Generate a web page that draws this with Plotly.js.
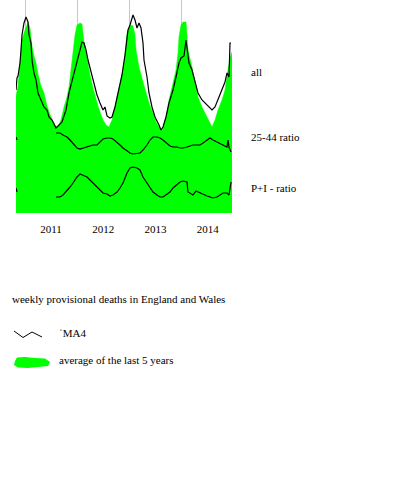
<!DOCTYPE html>
<html><head><meta charset="utf-8">
<script src="https://cdn.plot.ly/plotly-3.0.1.min.js"></script>
<style>html,body{margin:0;padding:0;background:#fff}#chart{width:400px;height:480px}</style>
</head><body><div id="chart"></div>
<script>
// week index counted from 2010-10-30; values in arbitrary units (no y axis shown)
const START_DATE = [2010, 9, 30];
const TOTAL_WEEKS = 216;

// average of the last 5 years ("all")
const avgWeeks = [0,2,4,6,8,10,12,14,16,18,20,22,25,28,31,35,38,40,43,45,48,51,53,55,57,59,61,64,66,68,70,72,74,77,79,82,84,87,90,93,96,99,102,104,106,109,111,113,115,117,119,120,123,127,130,133,137,140,143,146,150,153,157,160,162,163,165,167,170,172,176,179,182,186,189,192,196,199,202,206,209,212,214,216];
const avgAll   = [117,127,151,173,180,185,191,185,167,157,150,139,127,120,107,96,89,86,88,93,106,116,126,145,161,178,188,190,189,171,161,149,138,125,117,107,101,93,88,86,93,106,120,129,139,158,180,185,188,187,178,163,146,131,120,110,100,91,86,83,96,113,130,143,160,176,188,191,191,163,146,130,116,106,100,93,86,93,103,113,123,143,155,161];

// MA4 ("all")
const maWeeks = [0,1,2,4,5,6,8,10,12,13,15,16,18,20,22,25,28,31,33,36,38,40,43,46,50,51,53,55,57,59,61,63,66,68,70,72,74,77,79,81,84,87,89,91,94,96,99,102,106,109,111,112,114,117,119,121,123,125,127,128,131,133,136,139,143,145,147,150,153,157,160,163,165,168,170,171,173,176,179,182,186,189,192,196,199,202,206,209,211,213,214,215];
const maAll   = [123,135,137,150,163,178,190,196,191,178,170,153,140,133,120,113,106,103,96,93,88,85,88,91,103,110,120,128,136,143,153,160,171,170,163,153,145,133,125,118,110,103,106,97,95,96,106,120,138,158,176,183,188,198,193,185,190,185,170,153,136,120,106,96,88,83,86,96,110,123,136,150,155,157,173,166,150,143,131,120,113,110,106,103,106,113,123,131,140,136,170,170];

// MA4 25-44 ratio
const r2544Weeks = [0,1,2,40,44,47,51,54,57,61,64,67,71,74,77,81,84,87,91,94,97,101,104,107,111,114,117,121,124,127,131,134,137,141,144,147,151,154,157,161,164,167,171,174,177,181,184,187,191,194,197,201,204,207,211,212,213,215];
const ratio2544  = [76,73,null,80,80,78,76,73,70,65,64,65,66,67,68,68,71,74,75,75,74,71,68,65,62,60,59,60,60,63,68,73,76,76,75,73,70,67,66,66,65,65,66,67,68,68,68,70,73,75,73,71,70,68,66,73,66,61];

// MA4 P+I ratio
const rPIWeeks = [0,1,2,40,44,47,51,54,57,61,64,67,71,74,77,81,84,87,91,94,97,101,104,107,111,114,117,121,124,127,131,134,137,141,144,147,151,154,157,161,164,167,171,172,174,177,180,182,184,187,191,194,197,201,204,207,211,213,215];
const ratioPI  = [25,21,null,16,16,18,22,26,30,36,39,38,36,33,30,26,23,20,19,17,18,21,25,30,40,45,46,45,43,36,30,25,21,18,16,16,19,21,25,29,31,32,31,21,20,18,22,21,20,19,17,16,15,16,18,20,20,18,31];

const seriesLabels = ['all', '25-44 ratio', 'P+I - ratio'];
const seriesLabelLevels = [141, 76, 25];
const legendNames = ['\u02c8MA4', 'average of the last 5 years'];
const chartTitle = 'weekly provisional deaths in England and Wales';

const FONT = 'Liberation Serif, Times New Roman, serif';
function wk(w) {
  const t = Date.UTC(START_DATE[0], START_DATE[1], START_DATE[2]) + w * 7 * 864e5;
  return new Date(t).toISOString().slice(0, 10);
}
const lineStyle = {color: '#000000', width: 1.2};

const traces = [
  {x: avgWeeks.map(wk), y: avgAll, type: 'scatter', mode: 'lines', fill: 'tozeroy',
   fillcolor: '#00ff00', line: {color: '#00ff00', width: 0.5}, hoverinfo: 'skip', showlegend: false},
  {x: maWeeks.map(wk), y: maAll, type: 'scatter', mode: 'lines', line: lineStyle, showlegend: false},
  {x: r2544Weeks.map(wk), y: ratio2544, type: 'scatter', mode: 'lines', line: lineStyle, connectgaps: false, showlegend: false},
  {x: rPIWeeks.map(wk), y: ratioPI, type: 'scatter', mode: 'lines', line: lineStyle, connectgaps: false, showlegend: false}
];

// legend drawn by hand (pixel positions converted to paper coordinates)
const L = 16, T = 0, W = 216, H = 213;
const px = x => (x - L) / W;
const py = y => (T + H - y) / H;
const path = pts => 'M' + pts.map(p => px(p[0]) + ',' + py(p[1])).join(' L') + ' Z';
const openPath = pts => 'M' + pts.map(p => px(p[0]) + ',' + py(p[1])).join(' L');

const annotations = seriesLabels.map((t, i) => ({
  text: t, xref: 'paper', x: px(249), xanchor: 'left', yref: 'y', y: seriesLabelLevels[i],
  yanchor: 'middle', showarrow: false, font: {family: FONT, size: 11, color: '#000'}
}));
annotations.push({text: legendNames[0], xref: 'paper', yref: 'paper', x: px(57), y: py(333),
  xanchor: 'left', yanchor: 'middle', showarrow: false, font: {family: FONT, size: 11, color: '#000'}});
annotations.push({text: legendNames[1], xref: 'paper', yref: 'paper', x: px(57), y: py(360),
  xanchor: 'left', yanchor: 'middle', showarrow: false, font: {family: FONT, size: 11, color: '#000'}});

const shapes = [
  {type: 'path', xref: 'paper', yref: 'paper',
   path: openPath([[14, 331], [23, 337.5], [32, 332], [42, 337]]),
   line: {color: '#000', width: 1}},
  {type: 'path', xref: 'paper', yref: 'paper',
   path: path([[15, 361], [17, 357.5], [25, 357], [35, 358], [45, 358.5], [50, 362], [48, 366], [38, 367], [28, 368], [18, 367.5], [14, 365]]),
   fillcolor: '#00ff00', line: {color: '#00ff00', width: 0}}
];

const layout = {
  width: 400, height: 480,
  margin: {l: 16, r: 168, t: 0, b: 267, pad: 0},
  paper_bgcolor: '#ffffff', plot_bgcolor: '#ffffff',
  showlegend: false,
  title: {text: chartTitle, xref: 'container', yref: 'container', x: 12 / 400, xanchor: 'left',
          y: 1 - 299 / 480, yanchor: 'middle', font: {family: FONT, size: 11, color: '#000'}},
  xaxis: {type: 'date', range: [wk(0), wk(TOTAL_WEEKS)], tick0: '2011-01-01', dtick: 'M12',
          ticklabelmode: 'period', tickformat: '%Y', showgrid: true, gridcolor: '#c8c8c8', gridwidth: 1,
          layer: 'above traces', zeroline: false, showline: false,
          ticks: 'outside', ticklen: 6, tickcolor: 'rgba(0,0,0,0)',
          tickfont: {family: FONT, size: 11, color: '#000'}, fixedrange: true},
  yaxis: {range: [0, 213], visible: false, showgrid: false, zeroline: false, fixedrange: true},
  annotations: annotations,
  shapes: shapes
};

Plotly.newPlot('chart', traces, layout, {staticPlot: true, displayModeBar: false});
</script>
</body></html>
